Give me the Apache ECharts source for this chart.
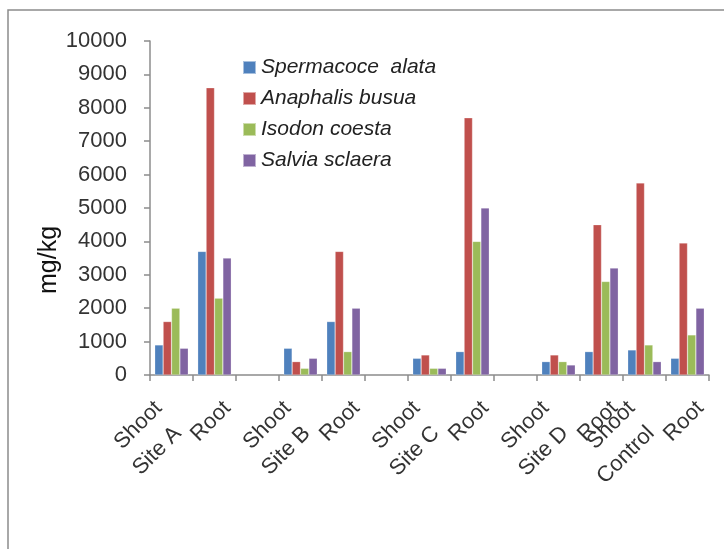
<!DOCTYPE html>
<html><head><meta charset="utf-8">
<script src="https://cdn.jsdelivr.net/npm/echarts@6/dist/echarts.min.js"></script>
<style>html,body{margin:0;padding:0;background:#fff}#c{width:724px;height:549px}</style>
</head><body><div id="c"></div>
<script>
const categories = ['Shoot','Root','','Shoot','Root','','Shoot','Root','','Shoot','Root','Shoot','Root'];
const sites = ['Site A','Site B','Site C','Site D','Control'];
const siteStart = [0,3,6,9,11];
const yTicks = [0,1000,2000,3000,4000,5000,6000,7000,8000,9000,10000];
const seriesNames = ['Spermacoce  alata','Anaphalis busua','Isodon coesta','Salvia sclaera'];
const spermacoce = [900,3700,'-',800,1600,'-',500,700,'-',400,700,750,500];
const anaphalis  = [1600,8600,'-',400,3700,'-',600,7700,'-',600,4500,5750,3950];
const isodon     = [2000,2300,'-',200,700,'-',200,4000,'-',400,2800,900,1200];
const salvia     = [800,3500,'-',500,2000,'-',200,5000,'-',300,3200,400,2000];
const colors = ['#4F81BD','#C0504D','#9BBB59','#8064A2'];

const FONT = 'Liberation Sans';
const catLabelMap = {};
categories.forEach((n,i)=>{ if(n){ const off = n==='Shoot'?0.2:0.8; catLabelMap[Math.round((i+off)*20)] = n; } });
const siteLabelMap = {};
sites.forEach((s,j)=>{ siteLabelMap[Math.round((siteStart[j]+1-0.35)*20)] = s; });

const chart = echarts.init(document.getElementById('c'));
const labelAxis = (map, margin) => ({
  type:'value', gridIndex:0, position:'bottom', min:0, max:categories.length, interval:0.05,
  axisLine:{show:false}, axisTick:{show:false}, splitLine:{show:false},
  axisLabel:{rotate:45, margin:margin, fontFamily:FONT, fontSize:22, color:'#333',
    formatter:v=>map[Math.round(v*20)]||''}
});
chart.setOption({
  animation:false,
  color:colors,
  graphic:[{type:'rect', shape:{x:8,y:10,width:800,height:700}, style:{fill:'none', stroke:'#8c8c8c', lineWidth:1.5}, silent:true}],
  legend:{orient:'vertical', left:237, top:52, itemWidth:13, itemHeight:13, itemGap:10,
    icon:'rect', textStyle:{fontFamily:FONT, fontSize:21, fontStyle:'italic', color:'#222'},
    data:seriesNames},
  grid:{left:150, right:15, top:41, bottom:174, containLabel:false},
  xAxis:[
    {type:'category', data:categories, axisLine:{lineStyle:{color:'#8c8c8c', width:1.5}},
     axisTick:{show:true, length:6, alignWithLabel:false, lineStyle:{color:'#8c8c8c', width:1.5}},
     axisLabel:{show:false}},
    labelAxis(catLabelMap, 30),
    labelAxis(siteLabelMap, 55)
  ],
  yAxis:{type:'value', min:yTicks[0], max:yTicks[yTicks.length-1], interval:1000,
    name:'mg/kg', nameLocation:'middle', nameGap:88, nameRotate:90, nameMoveOverlap:false,
    nameTextStyle:{fontFamily:FONT, fontSize:25, color:'#111', padding:[0,104,0,0]},
    axisLine:{show:true, lineStyle:{color:'#8c8c8c', width:1.5}},
    axisTick:{show:true, length:6, lineStyle:{color:'#8c8c8c', width:1.5}},
    splitLine:{show:false},
    axisLabel:{fontFamily:FONT, fontSize:22, color:'#333', margin:23, formatter:v=>String(v)}},
  series:[spermacoce, anaphalis, isodon, salvia].map((d,k)=>({
    type:'bar', name:seriesNames[k], data:d, xAxisIndex:0, barGap:'0%', barCategoryGap:'22%',
    itemStyle:{borderColor:'rgba(255,255,255,0.5)', borderWidth:0.5}
  }))
});
</script></body></html>
